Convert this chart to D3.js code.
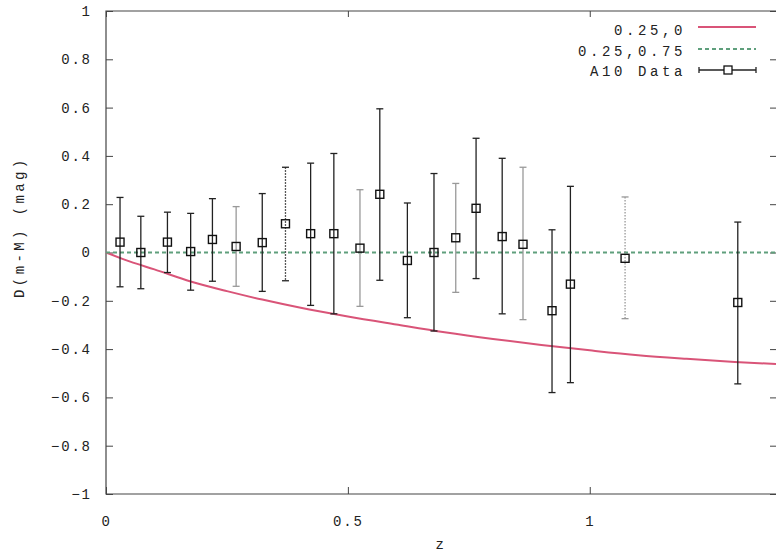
<!DOCTYPE html>
<html>
<head>
<meta charset="utf-8">
<script src="https://cdn.jsdelivr.net/npm/d3@7"></script>
<style>
  body { margin: 0; background: #fff; }
  svg text { font-family: "Liberation Mono", "DejaVu Sans Mono", monospace; fill: #222; }
</style>
</head>
<body>
<div id="chart"></div>
<script>
// A10 data points: redshift, D(m-M) and error bar ends
let z_data = [0.029, 0.072, 0.127, 0.175, 0.220, 0.269, 0.323, 0.371, 0.423, 0.471, 0.525,
    0.566, 0.623, 0.678, 0.723, 0.765, 0.819, 0.862, 0.922, 0.960, 1.073, 1.306];
let dm_data = [0.043, 0.0, 0.043, 0.004, 0.054, 0.025, 0.041, 0.119, 0.078, 0.078, 0.018,
    0.241, -0.033, 0.0, 0.061, 0.183, 0.066, 0.034, -0.241, -0.131, -0.024, -0.207];
let dm_hi = [0.228, 0.15, 0.167, 0.162, 0.223, 0.19, 0.244, 0.353, 0.37, 0.41, 0.26,
    0.595, 0.205, 0.327, 0.286, 0.473, 0.39, 0.353, 0.094, 0.274, 0.23, 0.126];
let dm_lo = [-0.142, -0.15, -0.083, -0.156, -0.119, -0.14, -0.161, -0.117, -0.219, -0.254, -0.223,
    -0.115, -0.27, -0.325, -0.165, -0.108, -0.254, -0.278, -0.58, -0.539, -0.274, -0.544];

// model 0.25,0 relative to 0.25,0.75
let model_z = [0, 0.05, 0.1, 0.175, 0.25, 0.323, 0.4, 0.5, 0.6, 0.7, 0.8, 0.9, 1.0, 1.1, 1.2, 1.3, 1.385];
let model_dm = [0, -0.038, -0.07, -0.12, -0.16, -0.195, -0.228, -0.265, -0.298, -0.33, -0.358,
    -0.383, -0.405, -0.425, -0.44, -0.453, -0.462];

let x_ticks = [0, 0.5, 1];
let y_ticks = [-1, -0.8, -0.6, -0.4, -0.2, 0, 0.2, 0.4, 0.6, 0.8, 1];
let legend_labels = ["0.25,0", "0.25,0.75", "A10 Data"];

// bars drawn fainter / dotted in the scan
let faint_bars = [5, 10, 14, 17, 20];
let dotted_bars = [7, 20];

let margin = { top: 11, right: 0, bottom: 62, left: 106 },
    width = 776 - margin.left - margin.right,
    height = 556 - margin.top - margin.bottom;

let svg = d3.select("#chart")
    .append("svg")
    .attr("width", 776)
    .attr("height", 556)
    .append("g")
    .attr("transform", "translate(" + margin.left + "," + margin.top + ")");

let x = d3.scaleLinear().domain([0, 1.385]).range([0, width]);
let y = d3.scaleLinear().domain([-1, 1]).range([height, 0]);

// frame
svg.append("path")
    .attr("d", "M" + width + ",0H0V" + height + "H" + width)
    .attr("fill", "none")
    .attr("stroke", "#444")
    .attr("stroke-width", 1.2);

// ticks pointing inwards
svg.append("g")
    .call(d3.axisLeft(y).tickValues(y_ticks).tickSize(-7).tickPadding(16).tickFormat(d3.format("")))
    .call(g => g.select(".domain").remove())
    .call(g => g.selectAll("line").attr("stroke", "#444"))
    .selectAll("text")
    .style("font-size", "14px")
    .style("letter-spacing", "1.8px")
    .attr("dx", "1.8px");

svg.append("g")
    .attr("transform", "translate(" + width + ",0)")
    .call(d3.axisRight(y).tickValues(y_ticks).tickSize(-6).tickFormat(""))
    .call(g => g.select(".domain").remove())
    .call(g => g.selectAll("line").attr("stroke", "#444"));

svg.append("g")
    .attr("transform", "translate(0," + height + ")")
    .call(d3.axisBottom(x).tickValues(x_ticks).tickSize(-7).tickPadding(22).tickFormat(d3.format("")))
    .call(g => g.select(".domain").remove())
    .call(g => g.selectAll("line").attr("stroke", "#444"))
    .selectAll("text")
    .style("font-size", "14px")
    .style("letter-spacing", "1.8px");

svg.append("g")
    .call(d3.axisTop(x).tickValues(x_ticks).tickSize(-6).tickFormat(""))
    .call(g => g.select(".domain").remove())
    .call(g => g.selectAll("line").attr("stroke", "#444"));

// axis titles
svg.append("text")
    .attr("x", x(0.69))
    .attr("y", height + 55)
    .attr("text-anchor", "middle")
    .style("font-size", "14px")
    .text("z");

svg.append("text")
    .attr("transform", "translate(" + (-82) + "," + y(0.105) + ")rotate(-90)")
    .attr("text-anchor", "middle")
    .style("font-size", "14px")
    .style("letter-spacing", "3.4px")
    .text("D(m-M) (mag)");

// model lines
let line = d3.line()
    .x(function (d) { return x(d[0]); })
    .y(function (d) { return y(d[1]); })
    .curve(d3.curveMonotoneX);

svg.append("path")
    .datum(d3.zip(model_z, model_dm))
    .attr("d", line)
    .attr("fill", "none")
    .attr("stroke", "#d95478")
    .attr("stroke-width", 2);

svg.append("path")
    .datum([[0, 0], [1.385, 0]])
    .attr("d", line)
    .attr("fill", "none")
    .attr("stroke", "#5f9f7c")
    .attr("stroke-width", 2)
    .attr("stroke-dasharray", "4,3");

// error bars
let pts = d3.range(z_data.length);
let bar_color = function (i) { return faint_bars.includes(i) ? "#999" : "#222"; };

let bars = svg.selectAll(".ebar")
    .data(pts)
    .enter()
    .append("g")
    .attr("class", "ebar")
    .attr("stroke", bar_color)
    .attr("stroke-width", 1.3);

bars.append("line")
    .attr("x1", function (i) { return x(z_data[i]); })
    .attr("x2", function (i) { return x(z_data[i]); })
    .attr("y1", function (i) { return y(dm_hi[i]); })
    .attr("y2", function (i) { return y(dm_lo[i]); })
    .attr("stroke-dasharray", function (i) { return dotted_bars.includes(i) ? "1.5,1.5" : null; });

bars.append("line")
    .attr("x1", function (i) { return x(z_data[i]) - 3.5; })
    .attr("x2", function (i) { return x(z_data[i]) + 3.5; })
    .attr("y1", function (i) { return y(dm_hi[i]); })
    .attr("y2", function (i) { return y(dm_hi[i]); });

bars.append("line")
    .attr("x1", function (i) { return x(z_data[i]) - 3.5; })
    .attr("x2", function (i) { return x(z_data[i]) + 3.5; })
    .attr("y1", function (i) { return y(dm_lo[i]); })
    .attr("y2", function (i) { return y(dm_lo[i]); });

svg.selectAll(".pt")
    .data(pts)
    .enter()
    .append("rect")
    .attr("class", "pt")
    .attr("x", function (i) { return x(z_data[i]) - 4; })
    .attr("y", function (i) { return y(dm_data[i]) - 4; })
    .attr("width", 8)
    .attr("height", 8)
    .attr("fill", "none")
    .attr("stroke", "#111")
    .attr("stroke-width", 1.4);

// legend
let legend = svg.append("g").attr("transform", "translate(" + (686 - margin.left) + ",0)");

legend.selectAll("text")
    .data(legend_labels)
    .enter()
    .append("text")
    .attr("x", 0)
    .attr("y", function (d, i) { return 24 + i * 20.5; })
    .attr("text-anchor", "end")
    .style("font-size", "14px")
    .style("letter-spacing", "3.6px")
    .text(function (d) { return d; });

legend.append("line")
    .attr("x1", 12).attr("x2", 70).attr("y1", 16).attr("y2", 16)
    .attr("stroke", "#d95478").attr("stroke-width", 2);

legend.append("line")
    .attr("x1", 12).attr("x2", 70).attr("y1", 38).attr("y2", 38)
    .attr("stroke", "#5f9f7c").attr("stroke-width", 2).attr("stroke-dasharray", "4,3");

let lg = legend.append("g").attr("stroke", "#222").attr("stroke-width", 1.3);
lg.append("line").attr("x1", 13).attr("x2", 70).attr("y1", 59).attr("y2", 59);
lg.append("line").attr("x1", 13).attr("x2", 13).attr("y1", 56).attr("y2", 62);
lg.append("line").attr("x1", 70).attr("x2", 70).attr("y1", 56).attr("y2", 62);
lg.append("rect").attr("x", 38).attr("y", 55).attr("width", 8).attr("height", 8)
    .attr("fill", "#fff").attr("stroke", "#111");
</script>
</body>
</html>
